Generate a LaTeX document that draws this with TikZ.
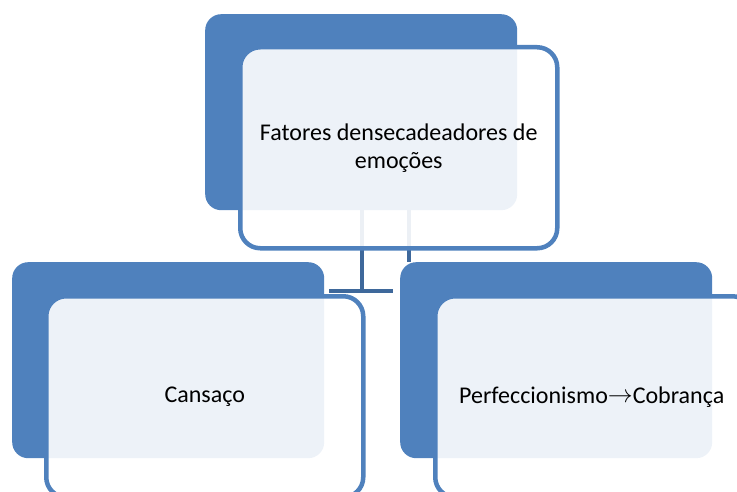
\documentclass[tikz,border=0pt]{standalone}
\usepackage{fontspec}
\setmainfont{Carlito}
\definecolor{accent}{RGB}{79,129,189}
\definecolor{conn}{RGB}{62,104,155}
\begin{document}
\begin{tikzpicture}[x=1pt,y=-1pt,
  back/.style={fill=accent, draw=none, rounded corners=16pt, inner sep=0pt, anchor=north west, minimum width=312pt, minimum height=196pt},
  front/.style={draw=accent, line width=4.5pt, fill=white, fill opacity=0.9, text opacity=1, rounded corners=20pt, inner sep=0pt, anchor=north west, minimum width=317pt, minimum height=201pt, font=\fontsize{24}{28}\selectfont, align=center},
  link/.style={draw=conn, line width=4.5pt}]
\useasboundingbox (0,0) rectangle (737,492);
% top level
\node[back] (b1) at (205,14) {};
\coordinate (j1) at (362,291);
\coordinate (h1) at (329,291);
\coordinate (h2) at (393,291);
\coordinate (j2) at (409,262);
\draw[link] (b1.south -| j1) -- (j1);
\draw[link] (h1) -- (h2);
\draw[link] (b1.south -| j2) -- (j2);
\node[front] (f1) at (238,45) {Fatores densecadeadores de\\emoções};
% children
\node[back] (b2) at (12,262) {};
\node[back] (b3) at (400,262) {};
\node[front] (f2) at (44,294) {Cansaço};
\node[front] (f3) at (433,294) {\hspace*{-4pt}Perfeccionismo\raisebox{1pt}{$\rightarrow$}Cobrança};
\end{tikzpicture}
\end{document}
